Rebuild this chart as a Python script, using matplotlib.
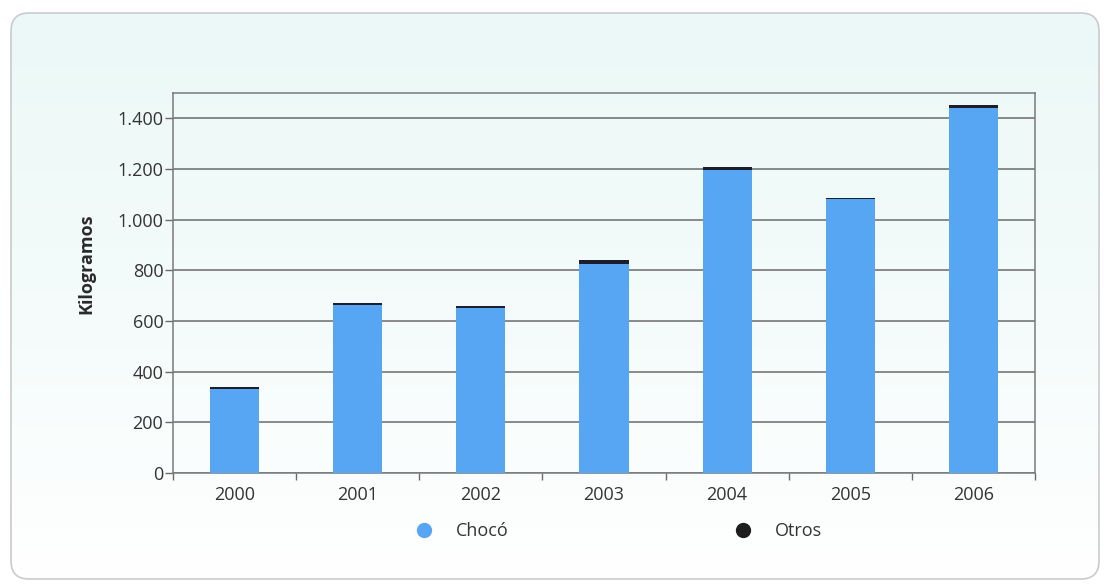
import numpy as np
import matplotlib
matplotlib.use("Agg")
import matplotlib.pyplot as plt
from matplotlib.patches import FancyBboxPatch
from matplotlib.lines import Line2D
from matplotlib.ticker import FuncFormatter

plt.rcParams['font.family'] = ['Open Sans', 'DejaVu Sans']

years = ['2000', '2001', '2002', '2003', '2004', '2005', '2006']
choco = [330, 662, 651, 826, 1196, 1082, 1439]
otros = [10, 8, 10, 15, 13, 2, 13]
yticks = [0, 200, 400, 600, 800, 1000, 1200, 1400]

W, H = 1104, 585
fig = plt.figure(figsize=(W / 100, H / 100), dpi=100)
fig.patch.set_facecolor('white')

# card background: pale mint at the top fading to white at the bottom
bg = fig.add_axes([0, 0, 1, 1], zorder=0)
bg.set_xlim(0, W)
bg.set_ylim(0, H)
bg.axis('off')
grad = np.linspace(0, 1, 256)[:, None] * np.ones((1, 2))
top = np.array([0.925, 0.975, 0.970])
bottom = np.array([1.0, 1.0, 1.0])
t = np.clip(grad ** 1.2, 0, 1)
img = top[None, None, :] * (1 - t[..., None]) + bottom[None, None, :] * t[..., None]
card = FancyBboxPatch((11, 6), 1088, 566, boxstyle="round,pad=0,rounding_size=18",
                      facecolor='none', edgecolor='#c9cccc', linewidth=1.2, zorder=2)
bg.add_patch(card)
im = bg.imshow(img, extent=[11, 1099, 6, 572], origin='upper', aspect='auto', zorder=1)
im.set_clip_path(card)

ax = fig.add_axes([173 / W, 1 - 473 / H, (1035 - 173) / W, (473 - 93) / H], zorder=3)
ax.set_facecolor('none')

x = np.arange(len(years))
blue = '#57a6f3'
dark = '#1b1e2c'
ax.bar(x, choco, width=0.4, color=blue, zorder=3)
ax.bar(x, otros, width=0.4, bottom=choco, color=dark, zorder=3)

ax.set_xlim(-0.5, len(years) - 0.5)
ax.set_ylim(0, 1500)
ax.set_yticks(yticks)
ax.yaxis.set_major_formatter(FuncFormatter(lambda v, p: f"{int(v):,}".replace(',', '.')))
ax.grid(axis='y', color='#6b6b6b', linewidth=1.1, zorder=1)
ax.set_axisbelow(True)

# category labels centred on bars, tick marks between categories
ax.set_xticks(x)
ax.set_xticklabels(years)
ax.tick_params(axis='x', which='major', length=0, pad=9, labelsize=13, labelcolor='#333333')
ax.set_xticks(np.arange(-0.5, len(years), 1.0), minor=True)
ax.tick_params(axis='x', which='minor', length=5, width=1, color='#6b6b6b', direction='out')
ax.tick_params(axis='y', length=6, width=1, color='#6b6b6b', pad=1, labelsize=13,
               labelcolor='#333333')

for s in ax.spines.values():
    s.set_color('#7a7a7a')
    s.set_linewidth(1.1)

ax.set_ylabel('Kilogramos', fontsize=13, fontweight='bold', color='#2a2a2a')
ax.yaxis.set_label_coords(-0.0905, 0.55)

handles = [
    Line2D([], [], linestyle='none', marker='o', markersize=10, color=blue, label='Chocó'),
    Line2D([], [], linestyle='none', marker='o', markersize=10, color='#1e1e1e', label='Otros'),
]
fig.legend(handles=handles, loc='center', bbox_to_anchor=(614 / W, 1 - 531 / H), ncol=2,
           frameon=False, fontsize=13, handlelength=2.0, handletextpad=0.75,
           columnspacing=12.0, labelcolor='#333333')

fig.savefig('out.png', dpi=100)
